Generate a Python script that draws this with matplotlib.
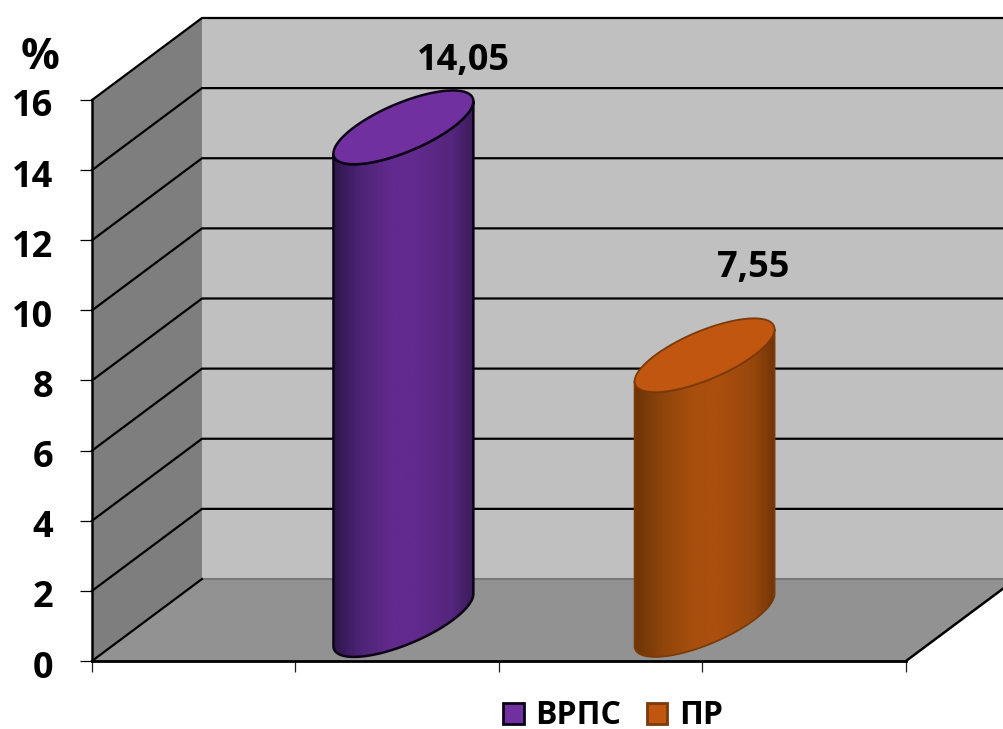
import numpy as np
import matplotlib
matplotlib.use('Agg')
import matplotlib.pyplot as plt
from matplotlib.colors import LinearSegmentedColormap
from matplotlib.patches import Patch, PathPatch, Polygon
from matplotlib.path import Path
from matplotlib.transforms import ScaledTranslation

plt.rcParams['font.family'] = ['Open Sans', 'DejaVu Sans']
plt.rcParams['font.weight'] = 'bold'

categories = ['ВРПС', 'ПР']
values = [14.05, 7.55]
value_labels = ['14,05', '7,55']
y_ticks = [0, 2, 4, 6, 8, 10, 12, 14, 16]
x_ticks = [0, 1, 2, 3, 4]
bar_pos = [1.26, 2.74]

# oblique projection of the 3D box, in data units
DX, DY = 0.5405, 2.339
R, S = 0.243, 0.45
T0 = np.arctan2(S * DX, R)

cap_colors = ['#7030a0', '#c0560f']
edge_colors = ['#0c0416', '#7a3a0a']
edge_widths = [1.8, 1.3]
body_stops = [
    ['#2c1648', '#4e2478', '#622a8e', '#612a8c', '#54267c', '#3c1c5c'],
    ['#6e3408', '#8f450b', '#a94f0e', '#ab4f0e', '#97470c', '#6f3508'],
]
label_offsets = [(43, 48), (35, 63)]


def ring(x, v, t):
    # point on a horizontal circle at mid depth of the box
    return np.column_stack([x + DX / 2 + R * np.cos(t) + S * DX * np.sin(t),
                            v + DY / 2 + S * DY * np.sin(t)])


fig = plt.figure(figsize=(10.04, 7.29), dpi=100)
ax = fig.add_axes([92 / 1004, 68 / 729, 814 / 1004, 561 / 729])
ax.patch.set_visible(False)
ax.set_xlim(0, 4)
ax.set_ylim(0, 16)

# walls and floor
ax.add_patch(Polygon([(0, 0), (0, 16), (DX, 16 + DY), (DX, DY)], fc='#7e7e7e', ec='none', clip_on=False, zorder=1))
ax.add_patch(Polygon([(DX, DY), (DX, 16 + DY), (4 + DX, 16 + DY), (4 + DX, DY)], fc='#c0c0c0', ec='none', clip_on=False, zorder=1))
ax.add_patch(Polygon([(0, 0), (4, 0), (4 + DX, DY), (DX, DY)], fc='#929292', ec='none', clip_on=False, zorder=1))
ax.plot([DX, 4 + DX], [DY, DY], color='#7a7a7a', lw=1.5, clip_on=False, zorder=1.5)

# grid lines run along the left wall and the back wall
for v in y_ticks:
    xs, ys = [0, DX], [v, v + DY]
    if v > 0:
        xs, ys = [0, DX, 4 + DX], [v, v + DY, v + DY]
    ax.plot(xs, ys, color='black', lw=1.6, clip_on=False, zorder=1.6, solid_joinstyle='miter')
ax.plot([4, 4 + DX], [0, DY], color='black', lw=1.8, clip_on=False, zorder=1.6)

# cylinders
for i in range(len(values)):
    x, v = bar_pos[i], values[i]
    lower = ring(x, 0, np.linspace(T0 + np.pi, T0 + 2 * np.pi, 80))
    upper = ring(x, v, np.linspace(T0 + 2 * np.pi, T0 + np.pi, 80))
    body = Path(np.vstack([lower, upper, lower[:1]]), closed=True)

    outline = PathPatch(body, fc='none', ec=edge_colors[i], lw=edge_widths[i], clip_on=False, zorder=4)
    ax.add_patch(outline)

    cmap = LinearSegmentedColormap.from_list('body', list(zip([0, 0.2, 0.42, 0.6, 0.85, 1], body_stops[i])))
    left = lower[:, 0].min()
    right = lower[:, 0].max()
    im = ax.imshow(np.linspace(0, 1, 256).reshape(1, -1), cmap=cmap, aspect='auto',
                   extent=[left, right, 0, v + DY], zorder=3, clip_on=True)
    clip = PathPatch(body, transform=ax.transData)
    im.set_clip_box(fig.bbox)
    im.set_clip_path(clip)

    cap = ring(x, v, np.linspace(0, 2 * np.pi, 160))
    ax.add_patch(Polygon(cap, fc=cap_colors[i], ec=edge_colors[i], lw=edge_widths[i], clip_on=False, zorder=5))

    # value label sits up and to the right of the cap centre
    ax.annotate(value_labels[i], xy=(x + DX / 2, v + DY / 2), xytext=label_offsets[i],
                textcoords='offset points', ha='center', va='center', fontsize=26,
                fontweight='bold', color='black', zorder=6)

ax.set_xlim(0, 4)
ax.set_ylim(0, 16)

# axes
for name in ['top', 'right']:
    ax.spines[name].set_visible(False)
ax.spines['left'].set_linewidth(1.8)
ax.spines['bottom'].set_linewidth(2.0)
ax.set_xticks(x_ticks)
ax.set_xticklabels([])
ax.set_yticks(y_ticks)
ax.set_yticklabels([str(t) for t in y_ticks], fontsize=26, fontweight='bold', va='center_baseline')
ax.tick_params(axis='y', length=9, width=0.9, pad=19, color='black')
ax.tick_params(axis='x', length=8, width=0.9, color='#222222')

# nudge the tick labels slightly below their ticks
nudge = ScaledTranslation(0, -3 / 100, fig.dpi_scale_trans)
for label in ax.get_yticklabels():
    label.set_transform(label.get_transform() + nudge)

ax.text(-0.255, 17.2, '%', fontsize=31, fontweight='bold', ha='center', va='center', color='black')

handles = [Patch(fc=cap_colors[i], ec=edge_colors[i], lw=2) for i in range(len(categories))]
fig.legend(handles, categories, loc='center', bbox_to_anchor=(613 / 1004, 1 - 716 / 729),
           frameon=False, ncol=2, handlelength=0.65, handleheight=0.65,
           handletextpad=0.35, columnspacing=0.8, borderpad=0, borderaxespad=0,
           prop={'weight': 'bold', 'size': 23})

fig.savefig('out.png', dpi=100)
